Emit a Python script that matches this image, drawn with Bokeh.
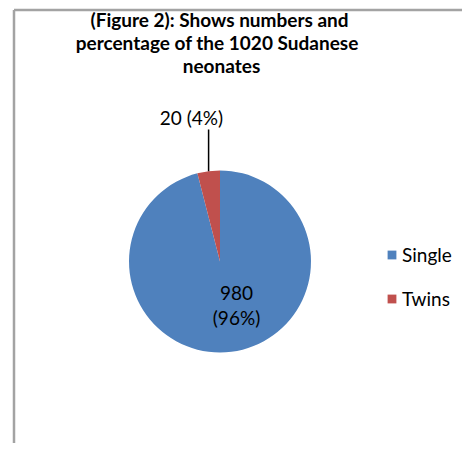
import numpy as np
from bokeh.plotting import figure
from bokeh.models import Range1d, ColumnDataSource
from bokeh.core.properties import value
from bokeh.embed import file_html
from bokeh.resources import INLINE

# ---- data ----
categories = ["Single", "Twins"]
counts = [980, 20]
percents = [96, 4]
colors = ["#4F81BD", "#C0504D"]
title_lines = ["(Figure 2): Shows numbers and",
               "percentage of  the 1020 Sudanese",
               "neonates"]

W, H = 462, 443


def Y(py):
    # picture pixel row -> data y
    return H - py


p = figure(width=W, height=H, output_backend="svg", toolbar_location=None,
           x_range=Range1d(0, W), y_range=Range1d(0, H),
           x_axis_location=None, y_axis_location=None, min_border=0)
p.grid.visible = False
p.outline_line_color = None
p.background_fill_color = "white"
p.border_fill_color = "white"

# chart frame (top and left border as in reference)
p.segment(x0=[13.5, 13.5], y0=[Y(9.5), Y(9.5)], x1=[W, 13.5], y1=[Y(9.5), Y(H)],
          line_color="#a3a3a3", line_width=2.5)

# ---- pie (angles from the shown percentages) ----
cx, cy, r = 219.5, Y(261), 91
frac = np.array(percents, dtype=float) / sum(percents)
cum = np.concatenate([[0.0], np.cumsum(frac)])
start = np.pi / 2 - cum[1:] * 2 * np.pi
end = np.pi / 2 - cum[:-1] * 2 * np.pi
src = ColumnDataSource(dict(cat=categories, start=start, end=end, color=colors))
p.wedge(x=cx, y=cy, radius=r, start_angle="start", end_angle="end",
        fill_color="color", line_color=None,
        legend_field="cat", source=src)

# ---- data labels ----
mid_tw = (start[1] + end[1]) / 2
ex = cx + r * np.cos(mid_tw)
ey = cy + r * np.sin(mid_tw)
p.segment(x0=[ex], y0=[ey], x1=[ex], y1=[Y(129)], line_color="black", line_width=1.5)
p.text(x=[191], y=[Y(117)], text=[f"{counts[1]} ({percents[1]}%)"],
       text_font=value("Lato"), text_font_size="19px", text_color="black",
       text_align="center", text_baseline="middle")
p.text(x=[236, 236], y=[Y(292), Y(317)],
       text=[f"{counts[0]}", f"({percents[0]}%)"],
       text_font=value("Lato"), text_font_size="19px", text_color="black",
       text_align="center", text_baseline="middle")

# ---- title ----
p.text(x=[219, 219, 221], y=[Y(19), Y(42), Y(65)], text=title_lines,
       text_font=value("Lato"), text_font_style="bold", text_font_size="19px",
       text_color="black", text_align="center", text_baseline="middle")

# ---- legend ----
lg = p.legend[0]
lg.location = (386, H - 310)
lg.glyph_width = 11
lg.glyph_height = 11
lg.label_text_font = "Lato"
lg.label_text_font_size = "19px"
lg.label_text_color = "black"
lg.label_height = 20
lg.spacing = 21
lg.padding = 0
lg.margin = 0
lg.label_standoff = 5
lg.border_line_color = None
lg.background_fill_alpha = 0

open("out.html", "w").write(file_html(p, INLINE))
